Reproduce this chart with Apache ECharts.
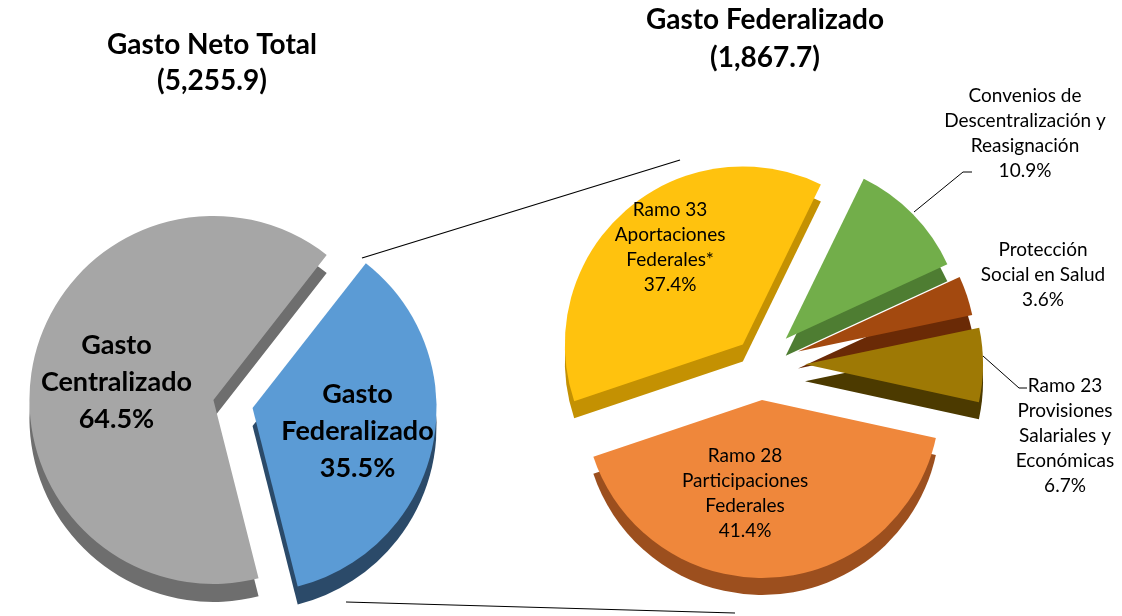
<!DOCTYPE html>
<html>
<head>
<meta charset="utf-8">
<script src="https://cdn.jsdelivr.net/npm/echarts@6/dist/echarts.min.js"></script>
<style>
  html, body { margin: 0; padding: 0; background: #fff; }
  #main { width: 1122px; height: 616px; }
</style>
</head>
<body>
<div id="main"></div>
<script>
// Gasto Neto Total (5,255.9)
var netoNames = ['Gasto\nFederalizado', 'Gasto\nCentralizado'];
var netoValues = [35.5, 64.5];
var netoTitle = 'Gasto Neto Total\n(5,255.9)';

// Gasto Federalizado (1,867.7)
var fedNames = [
  'Convenios de\nDescentralización y\nReasignación',
  'Protección\nSocial en Salud',
  'Ramo 23\nProvisiones\nSalariales y\nEconómicas',
  'Ramo 28\nParticipaciones\nFederales',
  'Ramo 33\nAportaciones\nFederales*'
];
var fedValues = [10.9, 3.6, 6.7, 41.4, 37.4];
var fedTitle = 'Gasto Federalizado\n(1,867.7)';

var FONT = 'Lato, "Liberation Sans", sans-serif';

// one pie series per slice (top face + darker copy below for the 3d edge)
function buildPie(names, values, cfg) {
  var total = values.reduce(function (a, b) { return a + b; }, 0);
  var out = [];
  var acc = 0;
  values.forEach(function (v, i) {
    var mid = (cfg.startAngle - 360 * (acc + v / 2) / total) * Math.PI / 180;
    acc += v;
    var cx = cfg.center[0] + Math.cos(mid) * cfg.explode[i];
    var cy = cfg.center[1] - Math.sin(mid) * cfg.explode[i];
    var lab = cfg.labels[i];

    function makeData(colors, withLabel) {
      return values.map(function (val, j) {
        var on = j === i;
        return {
          name: names[j],
          value: val,
          itemStyle: { color: on ? colors[j] : 'rgba(0,0,0,0)' },
          label: { show: on && withLabel },
          labelLine: { show: on && withLabel && !!lab.line }
        };
      });
    }

    var common = {
      type: 'pie',
      radius: cfg.radius,
      startAngle: cfg.startAngle,
      clockwise: true,
      avoidLabelOverlap: false,
      silent: true,
      animation: false,
      emphasis: { disabled: true }
    };

    out.push(Object.assign({}, common, {
      z: 1,
      center: [cx, cy + cfg.depth],
      label: { show: false },
      labelLine: { show: false },
      data: makeData(cfg.sides, false)
    }));

    out.push(Object.assign({}, common, {
      z: 2,
      center: [cx, cy],
      label: {
        position: lab.pos,
        formatter: '{b}\n{c}%',
        color: '#000',
        fontFamily: FONT,
        fontSize: cfg.fontSize,
        fontWeight: cfg.fontWeight,
        lineHeight: cfg.lineHeight,
        align: 'center'
      },
      labelLine: { show: !!lab.line, lineStyle: { color: '#000', width: 1 } },
      labelLayout: function (p) {
        if (p.dataIndex !== i) return {};
        var r = { dx: lab.dx || 0, dy: lab.dy || 0 };
        if (lab.x != null) {
          r = { x: lab.x, y: lab.y, align: 'center', verticalAlign: 'middle' };
          if (lab.line) r.labelLinePoints = lab.line;
        }
        return r;
      },
      data: makeData(cfg.colors, true)
    }));
  });
  return out;
}

var netoSeries = buildPie(netoNames, netoValues, {
  center: [233, 404],
  radius: 184,
  startAngle: 52,
  explode: [20, 20],
  depth: 18,
  colors: ['#5B9BD5', '#A6A6A6'],
  sides: ['#2B4A69', '#6E6E6E'],
  fontSize: 27,
  fontWeight: 'bold',
  lineHeight: 37,
  labels: [
    { pos: 'inside', dx: 12, dy: 4 },
    { pos: 'inside', dx: -4, dy: 2 }
  ]
});

var fedSeries = buildPie(fedNames, fedValues, {
  center: [760, 364],
  radius: 178,
  startAngle: 64,
  explode: [36, 40, 45, 36, 26],
  depth: 17,
  colors: ['#72AE4A', '#A3490F', '#9E7905', '#EF873B', '#FFC20E'],
  sides: ['#4E7D32', '#6A2A06', '#4C3A00', '#9C4F1E', '#C49102'],
  fontSize: 19,
  fontWeight: 'normal',
  lineHeight: 25,
  labels: [
    { pos: 'outside', x: 1025, y: 133, line: [[914, 212], [963, 172], [972, 172]] },
    { pos: 'outside', x: 1043, y: 275 },
    { pos: 'outside', x: 1065, y: 436, line: [[983, 356], [1019, 388], [1027, 388]] },
    { pos: 'inside', dx: -22, dy: 2 },
    { pos: 'inside', dx: -12, dy: -28 }
  ]
});

var chart = echarts.init(document.getElementById('main'));
chart.setOption({
  backgroundColor: '#fff',
  animation: false,
  title: [
    {
      text: netoTitle, left: 212, top: 27, textAlign: 'center', padding: 0,
      textStyle: { fontFamily: FONT, fontSize: 28, fontWeight: 'bold', color: '#000', lineHeight: 36 }
    },
    {
      text: fedTitle, left: 765, top: 1, textAlign: 'center', padding: 0,
      textStyle: { fontFamily: FONT, fontSize: 28, fontWeight: 'bold', color: '#000', lineHeight: 38 }
    }
  ],
  graphic: [
    { type: 'line', shape: { x1: 362, y1: 258, x2: 680, y2: 160 }, style: { stroke: '#000', lineWidth: 1.2 } },
    { type: 'line', shape: { x1: 346, y1: 602, x2: 735, y2: 613 }, style: { stroke: '#000', lineWidth: 1.2 } }
  ],
  series: netoSeries.concat(fedSeries)
});
</script>
</body>
</html>
